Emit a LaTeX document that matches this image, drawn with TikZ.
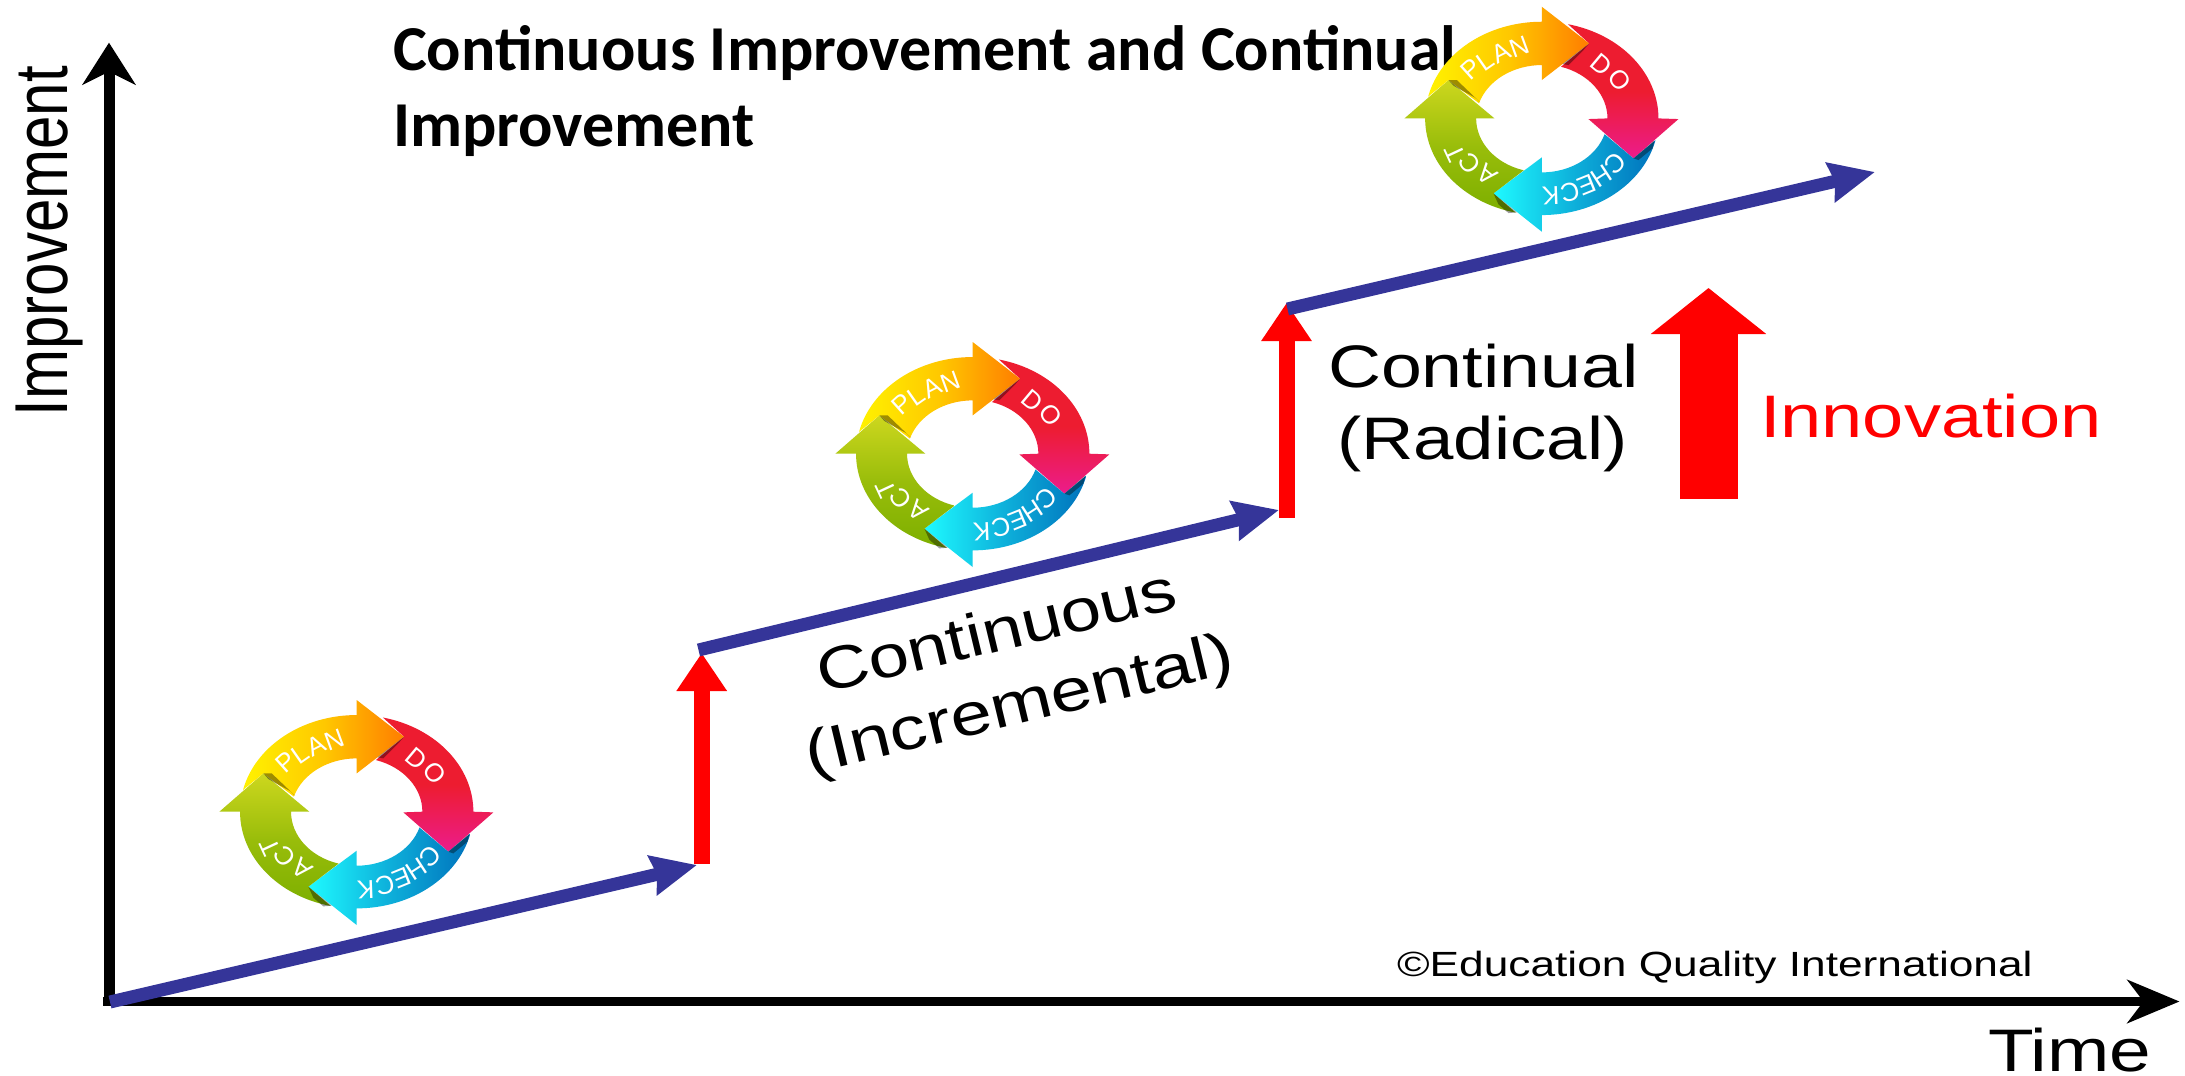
\documentclass[tikz,border=0pt]{standalone}
\usepackage{fontspec}
\setmainfont{Liberation Sans}
\newfontfamily\titlefont{Carlito}
\usetikzlibrary{arrows.meta}
\definecolor{bluearrow}{RGB}{53,53,153}
\definecolor{planA}{RGB}{255,242,0}
\definecolor{planB}{RGB}{255,200,0}
\definecolor{planC}{RGB}{255,125,0}
\definecolor{doA}{RGB}{237,28,48}
\definecolor{doB}{RGB}{236,28,140}
\definecolor{checkA}{RGB}{0,114,188}
\definecolor{checkB}{RGB}{30,250,255}
\definecolor{actA}{RGB}{205,215,30}
\definecolor{actB}{RGB}{125,175,0}
\tikzset{
  x=0.5pt,y=-0.5pt,
  txt/.style={inner sep=0pt,outer sep=0pt,anchor=base west,font=\fontsize{30}{36}\selectfont,xscale=1.21},
  axisy/.style={draw=black,line width=5.5pt,-{Stealth[length=21pt,width=26.5pt,inset=6.5pt]}},
  axisx/.style={draw=black,line width=4.5pt,-{Stealth[length=26pt,width=21.5pt,inset=8pt]}},
  bluearrow/.style={draw=bluearrow,line width=6.5pt,-{Stealth[length=22.5pt,width=19.5pt,inset=2pt]}},
  redarrow/.style={draw=red,line width=8pt,-{Triangle[length=19pt,width=24pt]}},
  bigred/.style={draw=red,line width=29pt,-{Triangle[length=23pt,width=56.5pt]}},
  letter/.style={inner sep=0pt,outer sep=0pt,text=white,font=\fontsize{13}{15}\selectfont},
  shadowpart/.style={fill=black,opacity=.38,draw=none},
  pdca/.pic={
    \begin{scope}[scale=1/3]
      % DO
      \shade[top color=doA,bottom color=doB,middle color=doA]
        ({350*cos(283)},{290*sin(283)}) arc[start angle=283,end angle=360,x radius=350,y radius=290]
        -- (410,2) -- (275,120) -- (140,2) -- (197,0)
        arc[start angle=360,end angle=287,x radius=197,y radius=162]
        -- (142,-225) -- cycle;
      % CHECK
      \shade[left color=checkB,right color=checkA,middle color=checkA!55!checkB]
        ({350*cos(13)},{290*sin(13)}) arc[start angle=13,end angle=90,x radius=350,y radius=290]
        -- (0,340) -- (-145,225) -- (0,117) -- (0,162)
        arc[start angle=90,end angle=17,x radius=197,y radius=162]
        -- (275,120) -- cycle;
      % ACT
      \shade[top color=actA,bottom color=actB,middle color=actB!65!actA]
        ({350*cos(103)},{290*sin(103)}) arc[start angle=103,end angle=180,x radius=350,y radius=290]
        -- (-412,0) -- (-280,-115) -- (-142,0) -- (-197,0)
        arc[start angle=180,end angle=106,x radius=197,y radius=162]
        -- (-145,225) -- cycle;
      % PLAN
      \shade[left color=planA,right color=planC,middle color=planB]
        ({350*cos(193)},{290*sin(193)}) arc[start angle=193,end angle=270,x radius=350,y radius=290]
        -- (0,-335) -- (142,-225) -- (0,-115) -- (0,-160)
        arc[start angle=270,end angle=197,x radius=197,y radius=162]
        -- (-280,-115) -- cycle;
      % shadows under the arrow heads
      \fill[shadowpart] (-255,-115) -- (-185,-48) -- (-200,-62) -- (-265,-98) -- (-280,-115) -- cycle;
      \fill[shadowpart] (-145,225) -- (-75,282) -- (-100,284) -- (-130,258) -- cycle;
      \fill[shadowpart] (142,-225) -- (62,-163) -- (80,-160) -- (125,-205) -- cycle;
      \fill[shadowpart] (275,120) -- (338,66) -- (332,90) -- (290,125) -- cycle;
      % letters
      \foreach \ch/\xx/\yy/\rr [count=\i] in {
        P/-213/-148/42, L/-170/-173/35, A/-122/-198/27, N/-68/-215/20,
        D/180/-160/-40, O/235/-115/-52,
        C/220/135/225, H/180/172/213, E/135/200/202, C/85/220/192, K/27/233/182,
        A/-165/170/140, C/-215/135/127, T/-260/105/115}
        \node[letter,rotate=\rr] (-l\i) at (\xx,\yy) {\ch};
    \end{scope}
  }
}
\begin{document}
\begin{tikzpicture}
\useasboundingbox (0,0) rectangle (2185,1076);
\fill[white] (0,0) rectangle (2185,1076);

% coordinates
\coordinate (ybottom) at (109,1006);
\coordinate (ytop) at (109,42.7);
\coordinate (xleft) at (103,1001.5);
\coordinate (xright) at (2179.5,1001.5);
\coordinate (b1s) at (110,1002);
\coordinate (b1e) at (697,865);
\coordinate (r1s) at (701.7,864);
\coordinate (r1e) at (701.7,653);
\coordinate (b2s) at (698.5,650);
\coordinate (b2e) at (1279,510);
\coordinate (r2s) at (1286.5,518);
\coordinate (r2e) at (1286.5,303);
\coordinate (b3s) at (1287.5,309);
\coordinate (b3e) at (1875,172);
\coordinate (bigs) at (1708.5,499);
\coordinate (bige) at (1708.5,288);

% title
\node[inner sep=0pt,outer sep=0pt,anchor=base west,font=\titlefont\bfseries\fontsize{32}{38}\selectfont] (title1) at (393,70) {Continuous Improvement and Continual};
\node[inner sep=0pt,outer sep=0pt,anchor=base west,font=\titlefont\bfseries\fontsize{32}{38}\selectfont] (title2) at (393,146) {Improvement};

% axes
\draw[axisy] (ybottom) -- (ytop);
\draw[axisx] (xleft) -- (xright);

% steps
\draw[redarrow] (r1s) -- (r1e);
\draw[bluearrow] (b1s) -- (b1e);
\draw[bluearrow] (b2s) -- (b2e);
\draw[redarrow] (r2s) -- (r2e);
\draw[bluearrow] (b3s) -- (b3e);
\draw[bigred] (bigs) -- (bige);

% labels
\node[inner sep=0pt,outer sep=0pt,anchor=base,font=\fontsize{30}{36}\selectfont,rotate=90,yscale=1.25] (ylab) at (67,241) {Improvement};
\node[txt,xscale=1.012] (continual) at (1328,387) {Continual};
\node[txt] (radical) at (1337,459) {(Radical)};
\node[txt,text=red,xscale=1.02] (innov) at (1760,437.7) {Innovation};
\node[txt,xscale=1.03] (time) at (1988,1071.7) {Time};
\node[inner sep=0pt,outer sep=0pt,anchor=center,font=\fontsize{30}{36}\selectfont,rotate=13.5,xscale=1.21] (cont) at (996,630) {Continuous};
\node[inner sep=0pt,outer sep=0pt,anchor=center,font=\fontsize{30}{36}\selectfont,rotate=13.5,xscale=1.24] (incr) at (1020,708) {(Incremental)};
\node[inner sep=0pt,outer sep=0pt,anchor=base west,font=\fontsize{17.5}{21}\selectfont,xscale=1.265] (copy) at (1397,976.7) {©Education Quality International};

% cycles
\pic (c1) at (356.7,811.7) {pdca};
\pic (c2) at (972.7,453.7) {pdca};
\pic (c3) at (1541.8,118.4) {pdca};
\end{tikzpicture}
\end{document}
